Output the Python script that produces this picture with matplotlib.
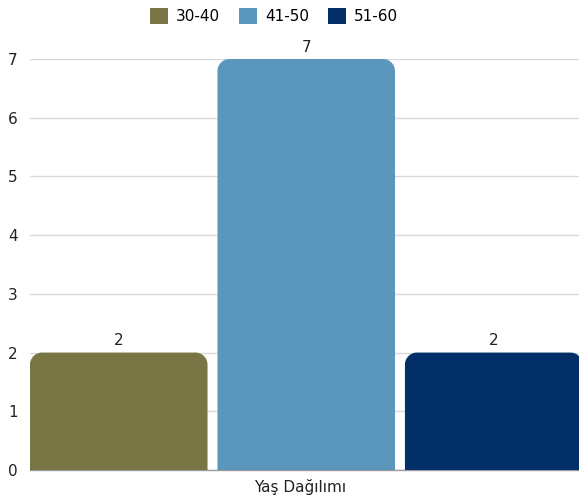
import matplotlib
matplotlib.use("Agg")
import matplotlib.pyplot as plt
from matplotlib.path import Path
from matplotlib.patches import PathPatch, Patch

plt.rcParams['font.family'] = ['DejaVu Sans']

series = ["30-40", "41-50", "51-60"]
values = [2, 7, 2]
colors = ["#7A7545", "#5B97BC", "#022F68"]
category = "Yaş Dağılımı"
yticks = [0, 1, 2, 3, 4, 5, 6, 7]

W, H = 579, 499
fig = plt.figure(figsize=(W / 100, H / 100), dpi=100)
ax = fig.add_axes([30 / W, (499 - 470) / H, (579 - 30) / W, (470 - 59) / H])

bars = ax.bar(range(len(series)), values, width=0.947, color=colors)
ax.set_xlim(-0.4735, 2.455)
ax.set_ylim(0, 7)

# rounded top corners
rx = 12 / 187.5
ry = 12 / 58.7
for i, (b, c) in enumerate(zip(bars, colors)):
    x0, w, h = b.get_x(), b.get_width(), b.get_height()
    x1 = x0 + w
    k = 0.45
    verts = [(x0, 0), (x0, h - ry),
             (x0, h - ry * k), (x0 + rx * k, h), (x0 + rx, h),
             (x1 - rx, h),
             (x1 - rx * k, h), (x1, h - ry * k), (x1, h - ry),
             (x1, 0), (x0, 0)]
    codes = [Path.MOVETO, Path.LINETO,
             Path.CURVE4, Path.CURVE4, Path.CURVE4,
             Path.LINETO,
             Path.CURVE4, Path.CURVE4, Path.CURVE4,
             Path.LINETO, Path.CLOSEPOLY]
    b.set_visible(False)
    ax.add_patch(PathPatch(Path(verts, codes), facecolor=c, edgecolor='none', zorder=3))
    ax.text(x0 + w / 2, h + 0.07, str(values[i]),
            ha='center', va='bottom', fontsize=11, color='#222222')

ax.set_yticks(yticks)
ax.set_yticklabels([str(t) for t in yticks], fontsize=11, color='#222222')
ax.set_xticks([])
ax.tick_params(axis='y', length=0, pad=9)
ax.grid(axis='y', color='#D9D9D9', linewidth=1, zorder=0)
ax.set_axisbelow(True)
for s in ['top', 'right', 'left']:
    ax.spines[s].set_visible(False)
ax.spines['bottom'].set_color('#999999')
ax.spines['bottom'].set_linewidth(1)
ax.spines['bottom'].set_zorder(2)

fig.text(300 / W, 1 - 487 / H, category, ha='center', va='center',
         fontsize=11, color='#222222')

handles = [Patch(facecolor=c, edgecolor='none') for c in colors]
fig.legend(handles, series, loc='center', bbox_to_anchor=(274 / W, 1 - 16 / H),
           ncol=3, frameon=False, fontsize=11, handlelength=1.2, handleheight=1.2,
           handletextpad=0.5, columnspacing=1.25, borderaxespad=0)

fig.savefig("out.png", dpi=100)
